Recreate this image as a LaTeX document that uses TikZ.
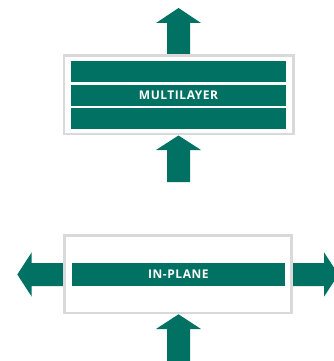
\documentclass[tikz,border=0pt]{standalone}
\usepackage{fontspec}
\setmainfont{Open Sans}
\newfontfamily\labelfont[LetterSpace=4.5]{Open Sans}
\definecolor{tealc}{RGB}{0,113,99}
\definecolor{framec}{RGB}{217,217,217}
\tikzset{
  tealfill/.style={fill=tealc, draw=none},
  frame/.style={draw=framec, line width=2.6pt, fill=white},
  bar/.style={tealfill, inner sep=0pt, text=white, font=\labelfont\fontsize{12}{14}\selectfont\bfseries},
}
\begin{document}
\begin{tikzpicture}[x=1pt,y=-1pt]
\useasboundingbox (0,0) rectangle (334,361);
\clip (0,0) rectangle (334,361);
% ---- top: multilayer ----
% arrows
\fill[tealc] (178.5,8) -- (201,23) -- (190,23) -- (190,56) -- (167,56) -- (167,23) -- (156,23) -- cycle;
\fill[tealc] (178.5,135.5) -- (201,150) -- (190,150) -- (190,182) -- (167,182) -- (167,150) -- (156,150) -- cycle;
\node[frame, minimum width=229.5pt, minimum height=78.5pt, inner sep=0pt] (mbox) at (178.9,94.7) {};
\node[bar, minimum width=215pt, minimum height=20.7pt] (b1) at (178.5,71.3) {};
\node[bar, minimum width=215pt, minimum height=20.7pt] (b2) at (178.5,95.2) {MULTILAYER};
\node[bar, minimum width=215pt, minimum height=20.7pt] (b3) at (178.5,118.8) {};
% ---- bottom: in-plane ----
\fill[tealc] (17.3,274.5) -- (31.7,252.3) -- (31.7,263) -- (65,263) -- (65,286) -- (31.7,286) -- (31.7,296.7) -- cycle;
\fill[tealc] (338.5,274.5) -- (324,252.3) -- (324,263) -- (291,263) -- (291,286) -- (324,286) -- (324,296.7) -- cycle;
\fill[tealc] (178.5,314.3) -- (201,329) -- (190,329) -- (190,362) -- (167,362) -- (167,329) -- (156,329) -- cycle;
\node[frame, minimum width=226.8pt, minimum height=77.4pt, inner sep=0pt] (pbox) at (178,274.3) {};
\node[bar, minimum width=213.3pt, minimum height=23.3pt] (pbar) at (178.4,274.4) {IN-PLANE};
\end{tikzpicture}
\end{document}
